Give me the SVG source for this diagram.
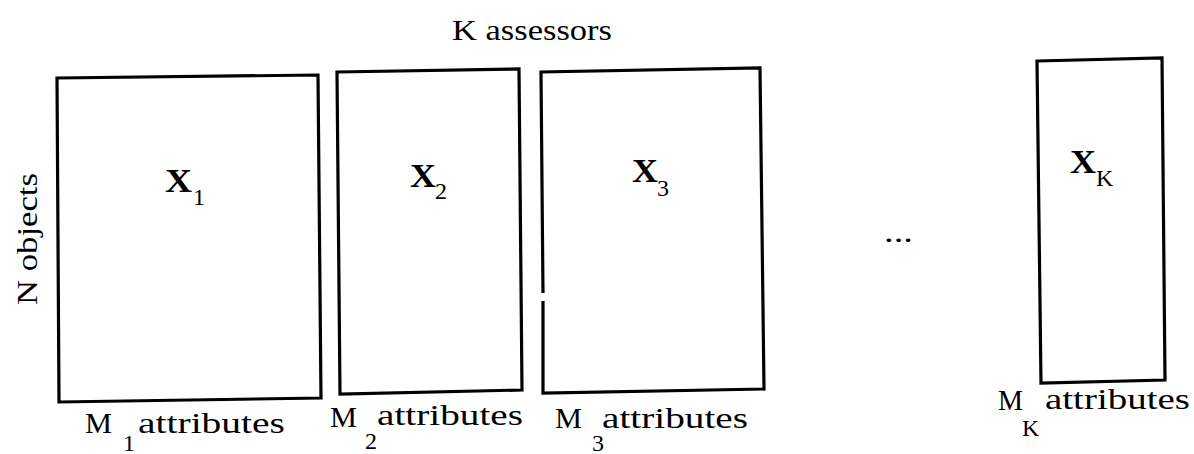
<svg xmlns="http://www.w3.org/2000/svg" width="1194" height="454" viewBox="0 0 1194 454">
<style>
.box{fill:none;stroke:#000;stroke-width:3.2;stroke-linejoin:miter}
text{fill:#000}
.t{font-size:30px}
.x{font-size:34px;font-weight:bold}
.s{font-size:24px}
</style>
<rect width="1194" height="454" fill="#fff"/>
<g font-family="Liberation Serif, DejaVu Serif, serif">
<g id="title"><text class="t" x="452" y="40" textLength="160" lengthAdjust="spacingAndGlyphs">K assessors</text></g>
<g id="rowlabel"><text class="t" transform="translate(37,239) rotate(-90)" text-anchor="middle" textLength="132" lengthAdjust="spacingAndGlyphs">N objects</text></g>
<g id="X1">
<path class="box" d="M57,78 L318,75 L321,398 L59,402 Z"/>
<text class="x" x="165" y="192" textLength="27" lengthAdjust="spacingAndGlyphs">X</text><text class="s" x="193" y="205">1</text>
<text class="t" x="85" y="433" textLength="27" lengthAdjust="spacingAndGlyphs">M</text><text class="s" x="123" y="451">1</text><text class="t" x="138" y="433" textLength="147" lengthAdjust="spacingAndGlyphs">attributes</text>
</g>
<g id="X2">
<path class="box" d="M337,72 L519,69 L522,390 L340,394 Z"/>
<text class="x" x="410" y="187" textLength="26" lengthAdjust="spacingAndGlyphs">X</text><text class="s" x="435" y="199">2</text>
<text class="t" x="330" y="427" textLength="27" lengthAdjust="spacingAndGlyphs">M</text><text class="s" x="365" y="449">2</text><text class="t" x="377" y="425" textLength="146" lengthAdjust="spacingAndGlyphs">attributes</text>
</g>
<g id="X3">
<path class="box" d="M543,293 L541,72 L760,68 L764,389 L543,393 L543,301"/>
<text class="x" x="632" y="182" textLength="26" lengthAdjust="spacingAndGlyphs">X</text><text class="s" x="657" y="196">3</text>
<text class="t" x="555" y="428" textLength="27" lengthAdjust="spacingAndGlyphs">M</text><text class="s" x="592" y="451">3</text><text class="t" x="602" y="428" textLength="146" lengthAdjust="spacingAndGlyphs">attributes</text>
</g>
<g id="ellipsis"><text class="t" x="884" y="242" textLength="29" lengthAdjust="spacingAndGlyphs">...</text></g>
<g id="XK">
<path class="box" d="M1037,61 L1162,58 L1165,380 L1041,383 Z"/>
<text class="x" x="1070" y="173" textLength="26" lengthAdjust="spacingAndGlyphs">X</text><text class="s" x="1096" y="186">K</text>
<text class="t" x="998" y="410" textLength="25" lengthAdjust="spacingAndGlyphs">M</text><text class="s" x="1022" y="436">K</text><text class="t" x="1045" y="409" textLength="145" lengthAdjust="spacingAndGlyphs">attributes</text>
</g>
</g>
<g id="connectors"/>
</svg>
